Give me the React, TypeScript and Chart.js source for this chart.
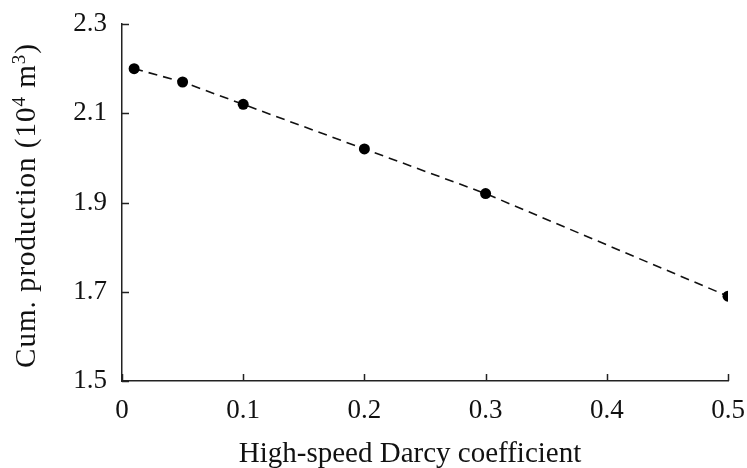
import React, { useEffect, useRef } from "react";
import { Chart, registerables } from "chart.js";

Chart.register(...registerables);

const xValues = [0.01, 0.05, 0.1, 0.2, 0.3, 0.5];
const yValues = [2.2, 2.17, 2.12, 2.02, 1.92, 1.69];
const xTicks = [0, 0.1, 0.2, 0.3, 0.4, 0.5];
const yTicks = [1.5, 1.7, 1.9, 2.1, 2.3];
const xTitle = "High-speed Darcy coefficient";
// y title pieces: [text, isSuperscript]
const yTitleParts: [string, boolean][] = [
  ["Cum. production (10", false],
  ["4", true],
  [" m", false],
  ["3", true],
  [")", false],
];

const FONT = "'Liberation Serif', 'Times New Roman', serif";

const inwardTicks = {
  id: "inwardTicks",
  afterDatasetsDraw(chart: any) {
    const { ctx, chartArea, scales } = chart;
    const len = 7;
    ctx.save();
    ctx.strokeStyle = "#222";
    ctx.lineWidth = 1.5;
    ctx.beginPath();
    for (const v of yTicks) {
      const y = Math.round(scales.y.getPixelForValue(v)) + 0.5;
      ctx.moveTo(chartArea.left, y);
      ctx.lineTo(chartArea.left + len, y);
    }
    for (const v of xTicks) {
      const x = Math.round(scales.x.getPixelForValue(v)) + 0.5;
      ctx.moveTo(x, chartArea.bottom);
      ctx.lineTo(x, chartArea.bottom - len);
    }
    ctx.stroke();
    ctx.restore();
  },
};

const titlesPlugin = {
  id: "titlesPlugin",
  afterDraw(chart: any) {
    const { ctx, chartArea } = chart;
    const mainSize = 29;
    const supSize = 19;
    const raise = 10;
    // x title
    ctx.save();
    ctx.fillStyle = "#111";
    ctx.font = `${mainSize}px ${FONT}`;
    ctx.textAlign = "center";
    ctx.textBaseline = "alphabetic";
    const xc = (chartArea.left + chartArea.right) / 2 - 15;
    ctx.fillText(xTitle, xc, 462);
    ctx.restore();

    // y title
    ctx.save();
    ctx.fillStyle = "#111";
    ctx.textBaseline = "alphabetic";
    ctx.textAlign = "left";
    try {
      (ctx as any).letterSpacing = "1px";
    } catch (e) {}
    let total = 0;
    const widths = yTitleParts.map(([t, sup]) => {
      ctx.font = `${sup ? supSize : mainSize}px ${FONT}`;
      const w = ctx.measureText(t).width;
      total += w;
      return w;
    });
    const cy = (chartArea.top + chartArea.bottom) / 2 + 3;
    ctx.translate(35, cy);
    ctx.rotate(-Math.PI / 2);
    let x = -total / 2;
    yTitleParts.forEach(([t, sup], i) => {
      ctx.font = `${sup ? supSize : mainSize}px ${FONT}`;
      ctx.fillText(t, x, sup ? -raise : 0);
      x += widths[i];
    });
    ctx.restore();
  },
};

export default function App() {
  const ref = useRef<HTMLCanvasElement | null>(null);
  useEffect(() => {
    if (!ref.current) return;
    const chart = new Chart(ref.current, {
      type: "scatter",
      data: {
        datasets: [
          {
            data: xValues.map((x, i) => ({ x, y: yValues[i] })),
            showLine: true,
            borderColor: "#111",
            borderWidth: 1.6,
            borderDash: [9, 6],
            pointRadius: 5.5,
            pointHoverRadius: 5.5,
            pointBackgroundColor: "#000",
            pointBorderColor: "#000",
            pointBorderWidth: 0,
          },
        ],
      },
      options: {
        responsive: false,
        animation: false,
        layout: { padding: { top: 24, right: 19, left: 0, bottom: 0 } },
        plugins: {
          legend: { display: false },
          tooltip: { enabled: false },
        },
        scales: {
          x: {
            type: "linear",
            min: 0,
            max: 0.5,
            afterBuildTicks: (s: any) => {
              s.ticks = xTicks.map((v) => ({ value: v }));
            },
            afterFit: (s: any) => {
              s.height = 87;
              s.paddingLeft = 0;
              s.paddingRight = 0;
            },
            grid: { display: false, drawTicks: false },
            border: { display: true, color: "#222", width: 1.5 },
            ticks: {
              padding: 14,
              color: "#111",
              font: { family: FONT, size: 27 },
              maxRotation: 0,
              callback: (v: any) => String(Math.round(Number(v) * 10) / 10),
            },
            title: { display: false },
          },
          y: {
            type: "linear",
            min: 1.5,
            max: 2.3,
            afterBuildTicks: (s: any) => {
              s.ticks = yTicks.map((v) => ({ value: v }));
            },
            afterFit: (s: any) => {
              s.width = 122;
              s.paddingTop = 0;
              s.paddingBottom = 0;
            },
            grid: { display: false, drawTicks: false },
            border: { display: true, color: "#222", width: 1.5 },
            ticks: {
              padding: 15,
              color: "#111",
              font: { family: FONT, size: 27 },
              callback: (v: any) => Number(v).toFixed(1),
            },
            title: { display: false },
          },
        },
      },
      plugins: [inwardTicks, titlesPlugin],
    });
    return () => chart.destroy();
  }, []);
  return (
    <div style={{ position: "absolute", left: 0, top: 0, width: 747, height: 468, background: "#fff" }}>
      <canvas ref={ref} width={747} height={468} style={{ width: 747, height: 468, display: "block" }} />
    </div>
  );
}
